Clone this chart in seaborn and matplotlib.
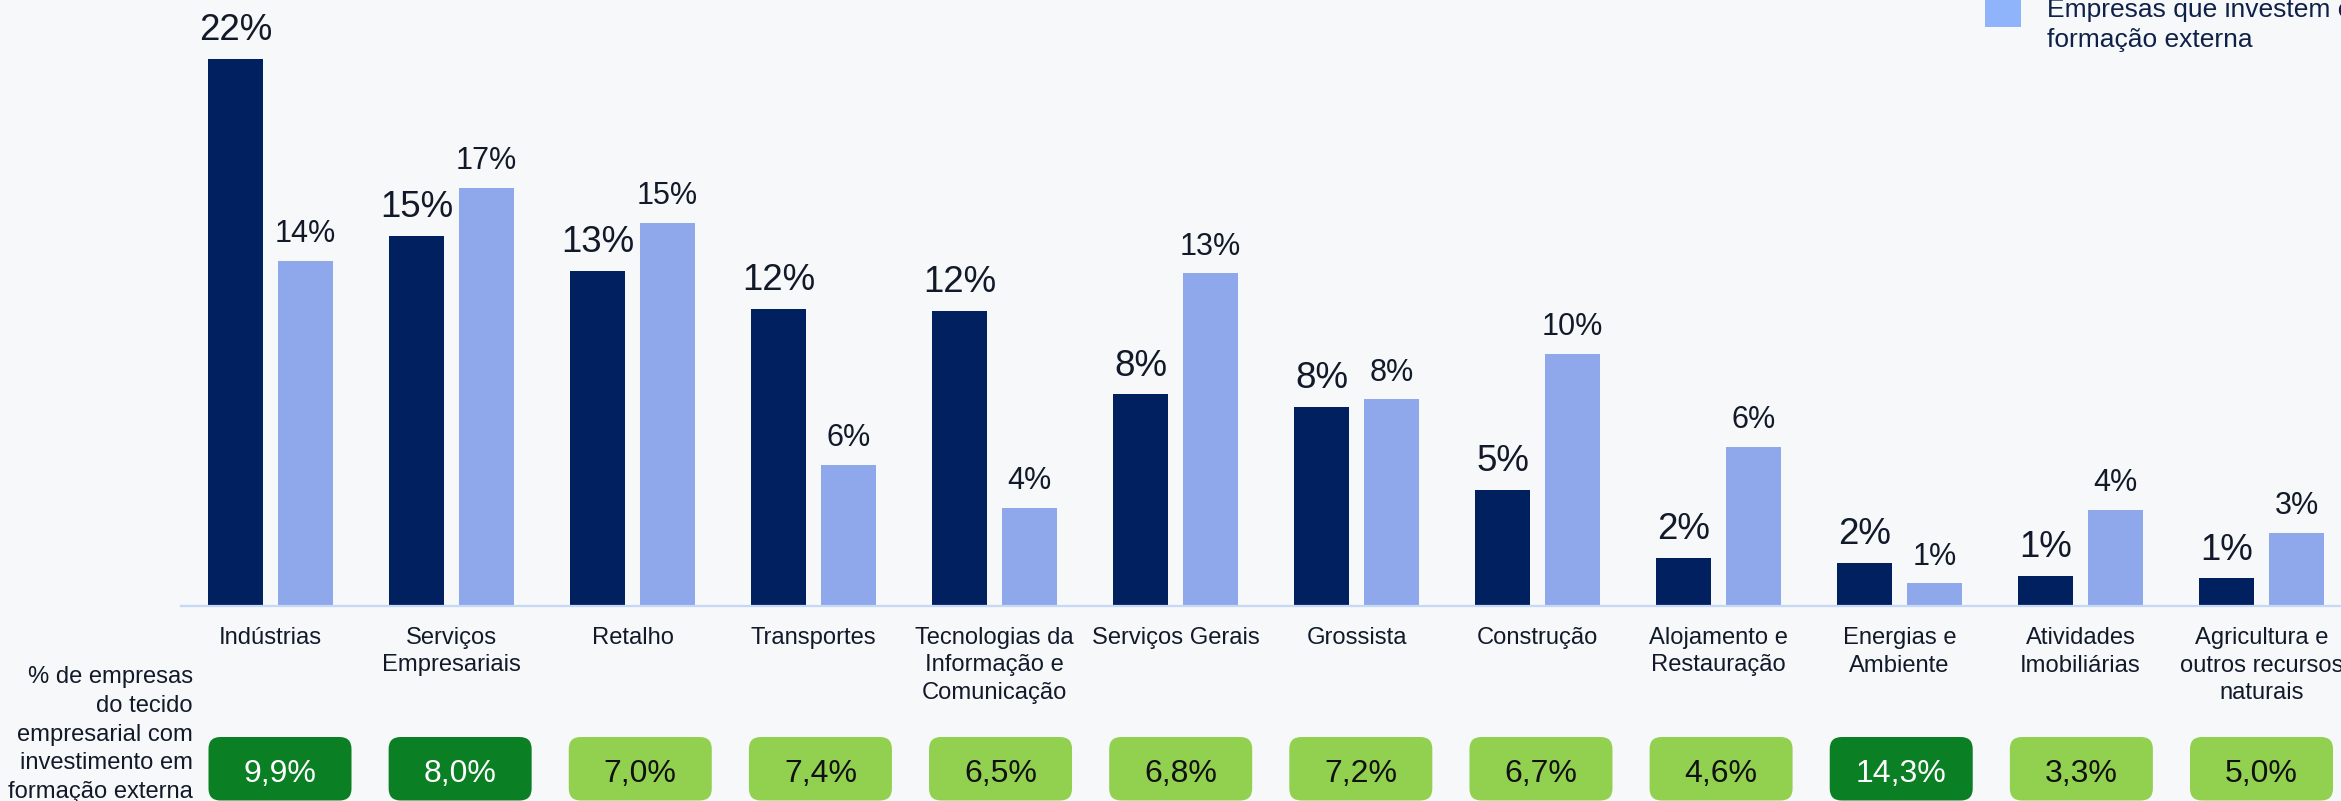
import numpy as np
import pandas as pd
import matplotlib
matplotlib.use("Agg")
import matplotlib.pyplot as plt
import matplotlib.transforms as mtransforms
from matplotlib.patches import FancyBboxPatch, Rectangle
import seaborn as sns

# ---------------- data ----------------
categories = [
    "Indústrias",
    "Serviços\nEmpresariais",
    "Retalho",
    "Transportes",
    "Tecnologias da\nInformação e\nComunicação",
    "Serviços Gerais",
    "Grossista",
    "Construção",
    "Alojamento e\nRestauração",
    "Energias e\nAmbiente",
    "Atividades\nImobiliárias",
    "Agricultura e\noutros recursos\nnaturais",
]
series_names = ["Tecido empresarial", "Empresas que investem em\nformação externa"]
tecido = [21.7, 14.7, 13.3, 11.8, 11.7, 8.4, 7.9, 4.6, 1.9, 1.7, 1.2, 1.1]
investem = [13.7, 16.6, 15.2, 5.6, 3.9, 13.2, 8.2, 10.0, 6.3, 0.9, 3.8, 2.9]
pct_investimento = [9.9, 8.0, 7.0, 7.4, 6.5, 6.8, 7.2, 6.7, 4.6, 14.3, 3.3, 5.0]
row_label = "% de empresas\ndo tecido\nempresarial com\ninvestimento em\nformação externa"

# ---------------- style ----------------
BG = "#f6f8fa"
DARK = "#002060"
LIGHT = "#8fa8ec"
LEGEND_LIGHT = "#8fb4fc"
GREEN_DARK = "#0a7f24"
GREEN_LIGHT = "#92d050"
TXT = "#121a2a"
LEG_TXT = "#0f2148"
AXIS = "#c5d8f5"

sns.set_theme(style="white")
plt.rcParams["font.family"] = ["Liberation Sans", "DejaVu Sans"]

W, H = 2341, 801
fig = plt.figure(figsize=(W / 100, H / 100), dpi=100)
fig.patch.set_facecolor(BG)

base_px = 606
ax = fig.add_axes([181 / W, (H - base_px) / H, (W - 181) / W, base_px / H])
ax.set_facecolor(BG)

df = pd.DataFrame({
    "Setor": categories * 2,
    "Serie": [series_names[0]] * len(categories) + [series_names[1]] * len(categories),
    "Valor": tecido + investem,
})
sns.barplot(data=df, x="Setor", y="Valor", hue="Serie", order=categories,
            hue_order=series_names, palette=[DARK, LIGHT], saturation=1,
            width=0.773, gap=0.214, errorbar=None, legend=False, ax=ax,
            edgecolor="none", linewidth=0)

px_per_unit = 181.0
ax.set_xlim(-89.5 / px_per_unit, (W - 270.5) / px_per_unit)
ax.set_ylim(0, base_px / 25.2)
for s in ["left", "right", "top"]:
    ax.spines[s].set_visible(False)
ax.spines["bottom"].set_color(AXIS)
ax.spines["bottom"].set_linewidth(1.6)
ax.set_xticks([])
ax.set_yticks([])
ax.set_xlabel("")
ax.set_ylabel("")

# value labels
sizes = [26.4, 22]
for cont, fs in zip(ax.containers, sizes):
    for bar in cont:
        v = bar.get_height()
        ax.annotate(f"{round(v):d}%", (bar.get_x() + bar.get_width() / 2, v),
                    xytext=(0, 13.5), textcoords="offset points",
                    ha="center", va="baseline", fontsize=fs, color=TXT)

# overlay axes in pixel coordinates (y from top)
ov = fig.add_axes([0, 0, 1, 1])
ov.set_xlim(0, W)
ov.set_ylim(H, 0)
ov.axis("off")
ov.patch.set_alpha(0)

n = len(categories)
for i, cat in enumerate(categories):
    cx = ax.transData.transform((i, 0))[0]
    for k, line in enumerate(cat.split("\n")):
        ov.text(cx, 644 + k * 27.5, line, ha="center", va="baseline",
                fontsize=17.1, color=TXT)
    # box
    bx = cx + 9.5 * (1 - i / (n - 1))
    val = pct_investimento[i]
    strong = val >= 8.0
    ov.add_patch(FancyBboxPatch((bx - 71.5, 737), 143, 63.5,
                                boxstyle="round,pad=0,rounding_size=12",
                                facecolor=GREEN_DARK if strong else GREEN_LIGHT,
                                edgecolor="none"))
    ov.text(bx, 781.7, f"{val:.1f}%".replace(".", ","), ha="center", va="baseline",
            fontsize=23, color="white" if strong else "#111111")

for k, line in enumerate(row_label.split("\n")):
    ov.text(193, 683 + k * 28.75, line, ha="right", va="baseline",
            fontsize=17.1, color=TXT)

# legend (partially outside the canvas as in the reference)
ov.add_patch(Rectangle((1985, -9), 36, 36, facecolor=LEGEND_LIGHT, edgecolor="none"))
for k, line in enumerate(series_names[1].split("\n")):
    ov.text(2047, 17.3 + k * 29.4, line, ha="left", va="baseline",
            fontsize=19, color=LEG_TXT)

fig.savefig("out.png", dpi=100, facecolor=BG)
